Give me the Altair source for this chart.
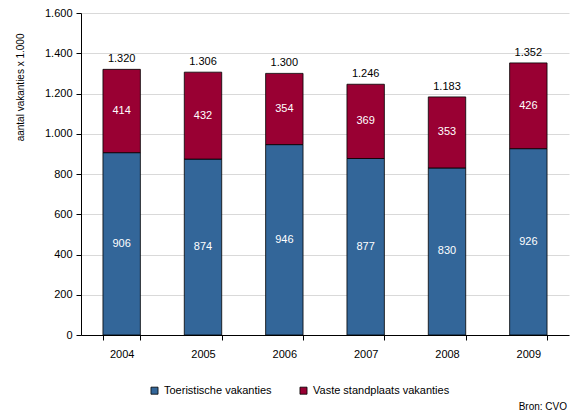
import altair as alt
import pandas as pd

years = ["2004", "2005", "2006", "2007", "2008", "2009"]
toeristisch = [906, 874, 946, 877, 830, 926]
vaste = [414, 432, 354, 369, 353, 426]
series_names = ["Toeristische vakanties", "Vaste standplaats vakanties"]
colors = ["#336699", "#990033"]
y_ticks = [0, 200, 400, 600, 800, 1000, 1200, 1400, 1600]

rows = []
for i, yr in enumerate(years):
    a, b = toeristisch[i], vaste[i]
    rows.append({"jaar": yr, "serie": series_names[0], "start": 0, "end": a, "mid": a / 2, "val": a, "ord": 0})
    rows.append({"jaar": yr, "serie": series_names[1], "start": a, "end": a + b, "mid": a + b / 2, "val": b, "ord": 1})
df = pd.DataFrame(rows)
tot = pd.DataFrame({"jaar": years, "total": [t + v for t, v in zip(toeristisch, vaste)]})

FONT = "Liberation Sans"

x_enc = alt.X("jaar:N", sort=years, title=None,
              scale=alt.Scale(paddingInner=0.54, paddingOuter=0.27),
              axis=alt.Axis(labelAngle=0, labelFontSize=11, labelColor="black", labelFont=FONT,
                            domainColor="black", tickColor="black", tickSize=5, tickBand="extent",
                            labelPadding=8))
y_scale = alt.Scale(domain=[0, 1600], nice=False)

bars = alt.Chart(df).mark_bar(stroke="black", strokeWidth=0.8).encode(
    x=x_enc,
    y=alt.Y("start:Q", scale=y_scale, title="aantal vakanties x 1.000",
            axis=alt.Axis(values=y_ticks, labelExpr="replace(format(datum.value, ','), ',', '.')",
                          labelFontSize=11, labelColor="black", labelFont=FONT,
                          domainColor="black", tickColor="black", tickSize=5,
                          gridColor="#d9d9d9", labelPadding=4,
                          titleFontSize=10, titleFont=FONT, titleFontWeight="normal", titleColor="black",
                          titleAngle=-90, titleAlign="right", titleX=-61, titleY=20,
                          titleBaseline="middle")),
    y2="end:Q",
    color=alt.Color("serie:N", scale=alt.Scale(domain=series_names, range=colors),
                    legend=alt.Legend(title=None, orient="none", direction="horizontal",
                                      legendX=68, legendY=372, symbolType="square",
                                      symbolSize=50, symbolStrokeColor="black", symbolStrokeWidth=0.8,
                                      labelFontSize=11, labelFont=FONT, labelColor="black",
                                      columnPadding=26, symbolOffset=0)),
    order=alt.Order("ord:Q"),
)

seg_text = alt.Chart(df).mark_text(color="white", fontSize=11, font=FONT).encode(
    x=alt.X("jaar:N", sort=years),
    y=alt.Y("mid:Q", scale=y_scale),
    text=alt.Text("val:Q"),
)

tot_text = alt.Chart(tot).transform_calculate(
    lbl="replace(format(datum.total, ','), ',', '.')"
).mark_text(color="black", fontSize=11, font=FONT, baseline="bottom", dy=-5).encode(
    x=alt.X("jaar:N", sort=years),
    y=alt.Y("total:Q", scale=y_scale),
    text="lbl:N",
)

bron = alt.Chart(pd.DataFrame({"t": ["Bron: CVO"]})).mark_text(
    fontSize=10, font=FONT, color="black", align="right", baseline="middle"
).encode(x=alt.value(486), y=alt.value(394), text="t:N")

chart = alt.layer(bars, seg_text, tot_text, bron).properties(
    width=488, height=322,
    autosize=alt.AutoSizeParams(type="none"),
    padding={"left": 73, "top": 5, "right": 3, "bottom": 80},
).configure_view(stroke=None)

chart.save("out.html", embed_options={"renderer": "svg", "actions": False})
